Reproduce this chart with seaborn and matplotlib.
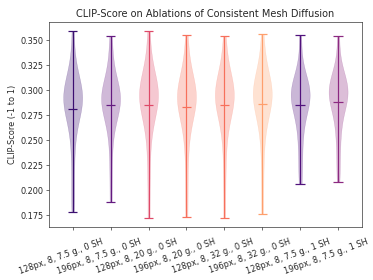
import numpy as np
import pandas as pd
import seaborn as sns
import matplotlib.pyplot as plt
from matplotlib.transforms import ScaledTranslation

# Ablation configurations (x axis)
configs = ["128px, 8, 7.5 g., 0 SH", "196px, 8, 7.5 g., 0 SH",
           "128px, 8, 20 g., 0 SH", "196px, 8, 20 g., 0 SH",
           "128px, 8, 32 g., 0 SH", "196px, 8, 32 g., 0 SH",
           "128px, 8, 7.5 g., 1 SH", "196px, 8, 7.5 g., 1 SH"]

# CLIP-scores per configuration (estimated from the figure)
scores_128_75_0 = [0.178, 0.200, 0.228, 0.250, 0.265, 0.275, 0.280, 0.286, 0.288, 0.290,
                   0.291, 0.292, 0.294, 0.296, 0.299, 0.302, 0.307, 0.315, 0.328, 0.359]
scores_196_75_0 = [0.188, 0.220, 0.246, 0.262, 0.272, 0.276, 0.281, 0.285, 0.288, 0.290,
                   0.291, 0.293, 0.295, 0.297, 0.300, 0.303, 0.308, 0.319, 0.332, 0.354]
scores_128_20_0 = [0.172, 0.210, 0.240, 0.258, 0.270, 0.278, 0.283, 0.287, 0.290, 0.292,
                   0.294, 0.296, 0.298, 0.300, 0.303, 0.307, 0.312, 0.320, 0.332, 0.359]
scores_196_20_0 = [0.173, 0.206, 0.236, 0.254, 0.267, 0.276, 0.281, 0.285, 0.288, 0.290,
                   0.292, 0.294, 0.296, 0.298, 0.301, 0.305, 0.310, 0.318, 0.330, 0.355]
scores_128_32_0 = [0.172, 0.212, 0.241, 0.259, 0.270, 0.278, 0.283, 0.287, 0.290, 0.292,
                   0.294, 0.296, 0.298, 0.300, 0.303, 0.307, 0.312, 0.320, 0.331, 0.354]
scores_196_32_0 = [0.176, 0.214, 0.243, 0.260, 0.271, 0.279, 0.284, 0.288, 0.291, 0.293,
                   0.295, 0.297, 0.299, 0.301, 0.304, 0.308, 0.313, 0.321, 0.332, 0.356]
scores_128_75_1 = [0.206, 0.222, 0.240, 0.255, 0.266, 0.274, 0.282, 0.286, 0.289, 0.291,
                   0.293, 0.295, 0.297, 0.299, 0.302, 0.305, 0.307, 0.313, 0.323, 0.355]
scores_196_75_1 = [0.208, 0.226, 0.245, 0.259, 0.269, 0.280, 0.285, 0.289, 0.292, 0.294,
                   0.296, 0.298, 0.300, 0.302, 0.305, 0.308, 0.309, 0.316, 0.325, 0.354]

all_scores = [scores_128_75_0, scores_196_75_0, scores_128_20_0, scores_196_20_0,
              scores_128_32_0, scores_196_32_0, scores_128_75_1, scores_196_75_1]

colors = ["#3b0f70", "#641a80", "#de4968", "#f7705c",
          "#f7705c", "#fe9f6d", "#51127c", "#8c2981"]

sns.set_style("ticks")
plt.rcParams["font.family"] = "DejaVu Sans"

df = pd.DataFrame({
    "config": np.repeat(configs, [len(s) for s in all_scores]),
    "score": np.concatenate(all_scores),
})

fig = plt.figure(figsize=(6.4, 4.8), dpi=58.4)
ax = fig.add_axes([0.131, 0.189, 0.837, 0.732])

sns.violinplot(data=df, x="config", y="score", hue="config", palette=colors,
               cut=0, inner=None, width=0.5, density_norm="width", saturation=1,
               bw_adjust=0.85, linewidth=0.5, legend=False, ax=ax)
for body, c in zip(ax.collections, colors):
    body.set_facecolor(c)
    body.set_edgecolor(c)
    body.set_alpha(0.3)

# extrema bars and mean lines, like matplotlib's violinplot
pos = np.arange(len(configs))
mins = [min(s) for s in all_scores]
maxs = [max(s) for s in all_scores]
means = [np.mean(s) for s in all_scores]
ax.vlines(pos, mins, maxs, colors=colors, lw=1.5)
ax.hlines(mins, pos - 0.125, pos + 0.125, colors=colors, lw=1.5)
ax.hlines(maxs, pos - 0.125, pos + 0.125, colors=colors, lw=1.5)
ax.hlines(means, pos - 0.125, pos + 0.125, colors=colors, lw=1.5)

ax.set_xlim(-0.625, len(configs) - 0.375)
ax.set_xticks(pos)
ax.set_xticklabels(configs, rotation=20)
shift = ScaledTranslation(-12 / fig.dpi, -4 / fig.dpi, fig.dpi_scale_trans)
for lbl in ax.get_xticklabels():
    lbl.set_transform(lbl.get_transform() + shift)

ax.set_xlabel("")
ax.set_ylabel("CLIP-Score (-1 to 1)")
ax.set_title("CLIP-Score on Ablations of Consistent Mesh Diffusion")

fig.savefig("out.png", dpi=58.4)
